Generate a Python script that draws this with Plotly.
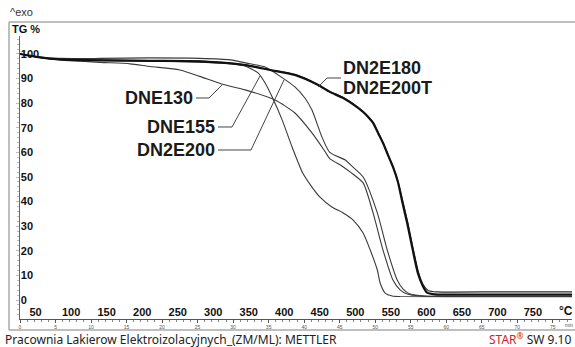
import plotly.graph_objects as go

W, H = 575, 347

# ---- data (temperature °C, TG %) ----
t_dn2e180 = [28, 56, 84, 141, 211, 281, 345, 380, 415, 447, 464, 483, 502, 511, 518, 525, 532, 539, 546, 553, 560, 566, 573, 580, 588, 595, 601, 612, 700, 805]
v_dn2e180 = [100, 98.6, 97.8, 97.4, 97.2, 97.0, 95.5, 93.5, 91.5, 87.5, 84.6, 82.1, 78.5, 76.4, 74.4, 72.0, 67.9, 63.8, 58.9, 54.1, 48.0, 40.0, 31.3, 21.5, 11.0, 5.7, 3.0, 2.3, 2.2, 2.2]

t_dn2e200t = [28, 56, 84, 141, 211, 281, 345, 380, 415, 447, 464, 483, 502, 511, 518, 525, 532, 539, 546, 553, 560, 567, 574, 581, 589, 596, 603, 615, 700, 805]
v_dn2e200t = [100, 98.6, 97.8, 97.5, 97.3, 97.1, 95.6, 93.6, 91.6, 87.6, 84.8, 82.3, 78.7, 76.6, 74.6, 72.2, 68.2, 64.0, 59.2, 54.3, 48.3, 40.0, 31.3, 21.5, 11.2, 6.0, 3.8, 3.3, 3.3, 3.3]

t_dne155 = [28, 56, 84, 141, 211, 281, 324, 345, 363, 373, 383, 397, 411, 426, 439, 450, 467, 483, 497, 511, 521, 531, 535, 542, 552, 563, 700, 805]
v_dne155 = [100, 98.6, 97.8, 97.4, 97.2, 96.7, 96.1, 95.1, 92.3, 88.2, 82.5, 73.2, 62.2, 51.6, 45.9, 41.9, 37.8, 35.4, 32.5, 27.2, 20.3, 12.2, 6.9, 2.8, 1.6, 1.4, 1.3, 1.3]

t_dne130 = [28, 56, 84, 141, 183, 211, 253, 281, 312, 345, 387, 415, 439, 457, 464, 481, 493, 511, 525, 539, 553, 563, 573, 591, 700, 805]
v_dne130 = [100, 98.6, 97.6, 96.6, 96.0, 94.9, 93.5, 90.9, 87.8, 85.4, 81.3, 76.0, 67.9, 60.5, 57.5, 54.5, 52.0, 47.6, 35.4, 20.3, 8.1, 4.1, 2.4, 1.6, 1.4, 1.4]

t_dn2e200 = [28, 56, 84, 141, 211, 281, 324, 352, 373, 398, 415, 429, 439, 453, 464, 486, 493, 511, 531, 545, 559, 567, 577, 598, 700, 805]
v_dn2e200 = [100, 98.8, 98.2, 98.2, 98.4, 98.2, 97.6, 96.0, 94.7, 90.2, 86.6, 82.1, 77.2, 66.3, 60.0, 56.9, 55.0, 50.0, 35.4, 20.3, 8.1, 4.5, 2.4, 1.6, 1.5, 1.5]

temp_ticks = list(range(50, 800, 50))
y_ticks = list(range(0, 110, 10))
minute_ticks = list(range(0, 80, 5))
start_temp = 28
heating_rate = 10  # K/min

series = [
    ("DNE130", t_dne130, v_dne130, 1.1, "#3a3a3a"),
    ("DNE155", t_dne155, v_dne155, 1.1, "#3a3a3a"),
    ("DN2E200", t_dn2e200, v_dn2e200, 1.1, "#3a3a3a"),
    ("DN2E200T", t_dn2e200t, v_dn2e200t, 1.2, "#2a2a2a"),
    ("DN2E180", t_dn2e180, v_dn2e180, 2.2, "#111111"),
]

# ---- layout geometry (pixels) ----
X0, X1 = 20, 572
Y_TOP, Y_BOT = 36, 319
x_range = [28, 28 + (X1 - X0) / 0.7104]
y_range = [-7.72, 107.31]


def P(x, y):
    return x / W, 1 - y / H


fig = go.Figure()
for name, t, v, w, c in series:
    fig.add_trace(go.Scatter(x=t, y=v, mode="lines", name=name, showlegend=False,
                             hoverinfo="skip",
                             line=dict(color=c, width=w, shape="spline", smoothing=0.6)))
# helper trace for minute axis
fig.add_trace(go.Scatter(x=[x_range[0]], y=[0], xaxis="x2", mode="markers",
                         marker=dict(opacity=0), showlegend=False, hoverinfo="skip"))

minute_vals = [start_temp + heating_rate * m for m in minute_ticks]

fig.update_layout(
    width=W, height=H, margin=dict(l=0, r=0, t=0, b=0),
    paper_bgcolor="white", plot_bgcolor="white",
    xaxis=dict(domain=[X0 / W, X1 / W], range=x_range, anchor="y",
               tickmode="array", tickvals=temp_ticks, ticktext=[str(t) for t in temp_ticks],
               ticklabelposition="inside", ticklabeloverflow="allow", ticks="",
               showgrid=False, zeroline=False,
               showline=True, linecolor="#555", linewidth=1,
               tickfont=dict(family="Liberation Sans, Arial", size=11, color="#111", weight="bold")),
    xaxis2=dict(overlaying="x", anchor="y", side="bottom", range=x_range,
                tickmode="array", tickvals=minute_vals, ticktext=[str(m) for m in minute_ticks],
                ticklabeloverflow="allow",
                ticks="outside", ticklen=3, tickcolor="#555", showgrid=False, zeroline=False,
                showline=False,
                minor=dict(tickmode="linear", tick0=start_temp, dtick=heating_rate,
                           ticks="outside", ticklen=2, tickcolor="#888"),
                tickfont=dict(family="Liberation Sans, Arial", size=5, color="#555")),
    yaxis=dict(domain=[1 - Y_BOT / H, 1 - Y_TOP / H], range=y_range, anchor="x",
               tickmode="array", tickvals=y_ticks, ticktext=[str(v) for v in y_ticks],
               ticklabelposition="inside", ticklabeloverflow="allow",
               ticks="outside", ticklen=3, tickcolor="#bbb",
               minor=dict(tickmode="linear", tick0=0, dtick=2, ticks="outside", ticklen=2, tickcolor="#bbb"),
               showgrid=False, zeroline=False, showline=True, linecolor="#666", linewidth=1,
               tickfont=dict(family="Liberation Sans, Arial", size=11, color="#111", weight="bold")),
)

# ---- frame ----
frame = [((9, 22), (576, 22)), ((9, 22), (9, 330)), ((9, 330), (576, 330))]
for (a, b) in frame:
    xa, ya = P(*a)
    xb, yb = P(*b)
    fig.add_shape(type="line", xref="paper", yref="paper", x0=xa, y0=ya, x1=xb, y1=yb,
                  line=dict(color="#aaaaaa", width=1.5))

# ---- curve labels and leader lines ----
label_font = dict(family="Liberation Sans, Arial", size=18, color="#1a1a1a", weight="bold")
labels = [
    ("DNE130", 194, 98, "right", [(196, 98), (209, 98), (222, 85)]),
    ("DNE155", 216, 127, "right", [(218, 127), (232, 127), (260, 76)]),
    ("DN2E200", 216, 150, "right", [(218, 150), (251, 150), (284, 80)]),
    ("DN2E180", 342, 68, "left", [(341, 78), (327, 78), (318, 87)]),
    ("DN2E200T", 342, 88, "left", None),
]
for text, lx, ly, anchor, leader in labels:
    ax, ay = P(lx, ly)
    fig.add_annotation(text=text, x=ax, y=ay, xref="paper", yref="paper",
                       xanchor=anchor, yanchor="middle", showarrow=False, font=label_font,
                       borderpad=0)
    if leader:
        pts = [P(*p) for p in leader]
        path = "M " + " L ".join(f"{x:.5f} {y:.5f}" for x, y in pts)
        fig.add_shape(type="path", xref="paper", yref="paper", path=path,
                      line=dict(color="#444", width=1))


# ---- other texts ----
def text_at(txt, x, y, anchor="left", size=11, color="#222", weight="normal", family="Liberation Sans, Arial"):
    ax, ay = P(x, y)
    fig.add_annotation(text=txt, x=ax, y=ay, xref="paper", yref="paper", xanchor=anchor,
                       yanchor="middle", showarrow=False, borderpad=0,
                       font=dict(family=family, size=size, color=color, weight=weight))


text_at("^exo", 9, 12, size=11, color="#333")
text_at("TG %", 11, 29, size=11, color="#111", weight="bold")
text_at("°C", 574, 311, anchor="right", size=12, color="#111", weight="bold")
text_at("min", 574, 325, anchor="right", size=5, color="#555")
text_at("Pracownia Lakierow Elektroizolacyjnych_(ZM/ML): METTLER", 4, 339, size=12,
        color="#222", family="Noto Sans")
text_at("<span style='color:#d0202a'>STAR<sup>®</sup></span> SW 9.10", 572, 339, anchor="right",
        size=12, color="#222", family="Noto Sans")

fig.write_html("out.html")
